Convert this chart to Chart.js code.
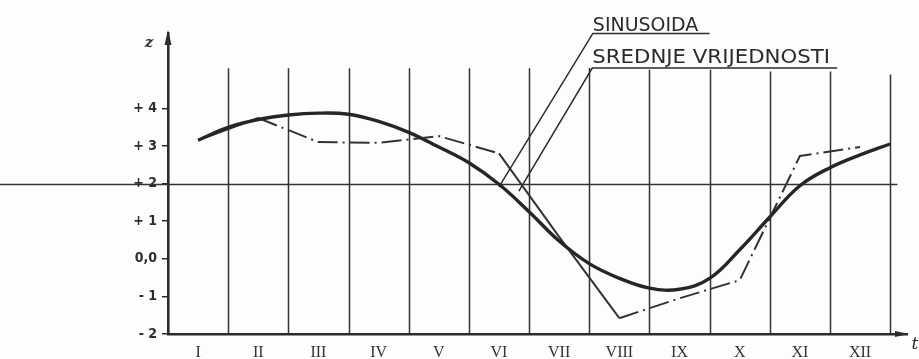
<!DOCTYPE html>
<html>
<head>
<meta charset="utf-8">
<script src="https://cdn.jsdelivr.net/npm/chart.js@4/dist/chart.umd.min.js"></script>
<style>
  html, body { margin: 0; padding: 0; background: #fdfdfb; }
  #wrap { width: 919px; height: 359px; }
</style>
</head>
<body>
<div id="wrap"><canvas id="chart" width="919" height="359"></canvas></div>
<script>
// months on the x axis (labels sit in the middle of each month)
const months = ['I', 'II', 'III', 'IV', 'V', 'VI', 'VII', 'VIII', 'IX', 'X', 'XI', 'XII'];
const monthPos = [0.5, 1.5, 2.5, 3.5, 4.5, 5.5, 6.5, 7.5, 8.5, 9.5, 10.5, 11.5];

// monthly mean values (dash-dot line)
const meanValues = [3.15, 3.74, 3.10, 3.08, 3.26, 2.80, 0.58, -1.58, -1.05, -0.57, 2.73, 2.97];

// fitted sinusoid
const sineX = [0.5, 1.0, 1.5, 2.0, 2.5, 3.0, 3.5, 4.0, 4.5, 5.0, 5.5, 6.0,
               6.5, 7.0, 7.5, 8.0, 8.5, 9.0, 9.5, 10.0, 10.5, 11.0, 11.5, 12.0];
const sineY = [3.15, 3.49, 3.70, 3.82, 3.87, 3.84, 3.65, 3.36, 2.97, 2.55, 1.98, 1.25,
               0.47, -0.13, -0.52, -0.78, -0.81, -0.52, 0.24, 1.11, 1.94, 2.42, 2.76, 3.05];

// y axis ticks
const yTicks = [-2, -1, 0, 1, 2, 3, 4];
const yTickLabels = ['- 2', '- 1', '0,0', '+ 1', '+ 2', '+ 3', '+ 4'];

// vertical month dividers and where each one stops at the top
const gridX = [1, 2, 3, 4, 5, 6, 7, 8, 9, 10, 11, 12];
const gridTop = [5.06, 5.06, 5.06, 5.06, 5.06, 5.06, 5.07, 5.02, 5.02, 4.98, 4.98, 4.9];

// horizontal reference level
const refLevel = 2;

// callout labels (data units)
const callouts = [
  { text: 'SINUSOIDA', x0: 7.06, x1: 8.81, y: 6.05, lineX1: 9.0, lineY: 5.99, lead: [5.50, 1.91] },
  { text: 'SREDNJE VRIJEDNOSTI', x0: 7.05, x1: 11.0, y: 5.21, lineX1: 11.12, lineY: 5.07, lead: [5.83, 1.80] }
];

const ink = '#2b2b2b';

const sketchPlugin = {
  id: 'sketch',
  beforeDatasetsDraw(chart) {
    const { ctx, scales: { x, y } } = chart;
    ctx.save();
    ctx.strokeStyle = '#333';
    ctx.lineWidth = 1.5;
    gridX.forEach((gx, i) => {
      const px = Math.round(x.getPixelForValue(gx)) + 0.5;
      ctx.beginPath();
      ctx.moveTo(px, y.getPixelForValue(-2));
      ctx.lineTo(px, y.getPixelForValue(gridTop[i]));
      ctx.stroke();
    });
    // reference line runs out to the left edge
    const py = Math.round(y.getPixelForValue(refLevel)) + 0.5;
    ctx.lineWidth = 1.6;
    ctx.beginPath();
    ctx.moveTo(0, py);
    ctx.lineTo(x.getPixelForValue(12.12), py);
    ctx.stroke();
    ctx.restore();
  },
  afterDraw(chart) {
    const { ctx, chartArea, scales: { x, y } } = chart;
    ctx.save();
    ctx.fillStyle = ink;
    ctx.strokeStyle = ink;

    // arrow heads
    const ax = chartArea.left;
    ctx.beginPath();
    ctx.moveTo(ax, chartArea.top - 3);
    ctx.lineTo(ax - 3.5, chartArea.top + 12);
    ctx.lineTo(ax + 3.5, chartArea.top + 12);
    ctx.closePath();
    ctx.fill();
    const ay = chartArea.bottom;
    ctx.beginPath();
    ctx.moveTo(chartArea.right + 2, ay);
    ctx.lineTo(chartArea.right - 12, ay - 3);
    ctx.lineTo(chartArea.right - 12, ay + 3);
    ctx.closePath();
    ctx.fill();

    // axis names
    ctx.font = 'italic bold 15px "DejaVu Serif"';
    ctx.textAlign = 'center';
    ctx.textBaseline = 'middle';
    ctx.fillText('z', ax - 19, chartArea.top + 10);
    ctx.font = 'italic 17px "DejaVu Serif"';
    ctx.fillText('t', chartArea.right + 8, ay + 11);

    // callouts
    ctx.lineWidth = 1.5;
    ctx.textAlign = 'left';
    ctx.textBaseline = 'alphabetic';
    ctx.font = '19px "DejaVu Sans Condensed"';
    callouts.forEach(c => {
      const tx0 = x.getPixelForValue(c.x0);
      const tx1 = x.getPixelForValue(c.x1);
      const ty = y.getPixelForValue(c.y);
      const w = ctx.measureText(c.text).width;
      ctx.save();
      ctx.translate(tx0, ty);
      ctx.scale((tx1 - tx0) / w, 1);
      ctx.fillText(c.text, 0, 0);
      ctx.restore();
      const ly = y.getPixelForValue(c.lineY);
      ctx.beginPath();
      ctx.moveTo(x.getPixelForValue(c.lead[0]), y.getPixelForValue(c.lead[1]));
      ctx.lineTo(x.getPixelForValue(c.x0), ly);
      ctx.lineTo(x.getPixelForValue(c.lineX1), ly);
      ctx.stroke();
    });
    ctx.restore();
  }
};

const solidSegments = [0, 5, 6];

new Chart(document.getElementById('chart'), {
  type: 'line',
  data: {
    datasets: [
      {
        label: 'Sinusoida',
        data: sineX.map((v, i) => ({ x: v, y: sineY[i] })),
        borderColor: '#262626',
        borderWidth: 3.4,
        pointRadius: 0,
        tension: 0.4,
        fill: false
      },
      {
        label: 'Srednje vrijednosti',
        data: monthPos.map((v, i) => ({ x: v, y: meanValues[i] })),
        borderColor: '#333333',
        borderWidth: 2,
        pointRadius: 0,
        tension: 0,
        fill: false,
        segment: {
          borderDash: c => solidSegments.includes(c.p0DataIndex) ? [] : [20, 5, 2, 5]
        }
      }
    ]
  },
  options: {
    responsive: false,
    animation: false,
    layout: { padding: { top: 33, right: 12, left: 0, bottom: 0 } },
    plugins: { legend: { display: false }, tooltip: { enabled: false } },
    scales: {
      x: {
        type: 'linear',
        min: 0,
        max: 12.28,
        afterBuildTicks: s => { s.ticks = monthPos.map(v => ({ value: v })); },
        afterFit: s => { s.height = 25; },
        grid: { display: false, drawTicks: false },
        border: { display: true, color: ink, width: 2.5 },
        ticks: {
          autoSkip: false,
          maxRotation: 0,
          padding: 9,
          color: '#333',
          font: { family: '"Liberation Serif"', size: 16 },
          callback: (v, i) => months[i]
        }
      },
      y: {
        min: -2,
        max: 6,
        afterBuildTicks: s => { s.ticks = yTicks.map(v => ({ value: v })); },
        afterFit: s => { s.width = 168; },
        grid: { drawOnChartArea: false, tickLength: 6, color: ink, lineWidth: 1.5 },
        border: { display: true, color: ink, width: 2.6 },
        ticks: {
          padding: 5,
          color: '#2e2e2e',
          font: { family: '"DejaVu Sans Condensed"', size: 14, weight: 'bold' },
          callback: (v, i) => yTickLabels[i]
        }
      }
    }
  },
  plugins: [sketchPlugin]
});
</script>
</body>
</html>
